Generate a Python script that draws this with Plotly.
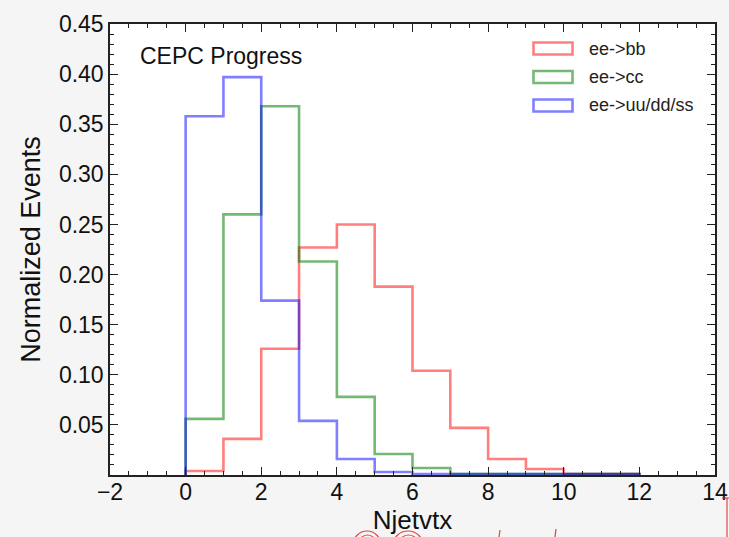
import plotly.graph_objects as go

# Normalized jet-vertex multiplicity per process, unit-width bins starting at 0
bin_edges = list(range(0, 13))
bb_values = [0.004, 0.036, 0.126, 0.227, 0.250, 0.188, 0.104, 0.047, 0.016, 0.006, 0.001, 0.001]
cc_values = [0.056, 0.260, 0.368, 0.213, 0.078, 0.021, 0.007, 0.001, 0.001, 0.001, 0.001, 0.001]
uds_values = [0.358, 0.397, 0.174, 0.054, 0.016, 0.003, 0.001, 0.001, 0.001, 0.001, 0.001, 0.001]

series_names = ["ee->bb", "ee->cc", "ee->uu/dd/ss"]
series_values = [bb_values, cc_values, uds_values]
series_colors = ["rgba(255,0,0,0.5)", "rgba(0,128,0,0.55)", "rgba(0,0,255,0.5)"]

y_tick_vals = [0.05, 0.10, 0.15, 0.20, 0.25, 0.30, 0.35, 0.40, 0.45]
x_tick_vals = [-2, 0, 2, 4, 6, 8, 10, 12, 14]

FONT = "Liberation Sans, Arial, Helvetica, sans-serif"


def step_outline(edges, values):
    """Outline of a step histogram: rises at the first edge, drops at the last."""
    xs = [edges[0]] + edges[:-1] + [edges[-1], edges[-1]]
    ys = [0.0] + values + [values[-1], 0.0]
    return xs, ys


fig = go.Figure()
for name, vals, color in zip(series_names, series_values, series_colors):
    xs, ys = step_outline(bin_edges, vals)
    fig.add_trace(go.Scatter(
        x=xs, y=ys, mode="lines", name=name,
        line=dict(color=color, width=2.6, shape="hv"),
        showlegend=False, hoverinfo="skip",
    ))

# Legend drawn as outlined boxes with labels (top right)
x0, y_top = 110, 475
pw, ph = 605, 451


def px_x(p):
    return (p - x0) / pw


def px_y(p):
    return (y_top - p) / ph


shapes = []
annotations = []
legend_rows = [48.5, 77, 105.5]
for name, color, yc in zip(series_names, series_colors, legend_rows):
    shapes.append(dict(
        type="rect", xref="paper", yref="paper",
        x0=px_x(533.5), x1=px_x(572.5), y0=px_y(yc + 6), y1=px_y(yc - 6),
        line=dict(color=color, width=2.6), fillcolor="rgba(0,0,0,0)",
    ))
    annotations.append(dict(
        text=name, xref="paper", yref="paper", x=px_x(587), y=px_y(yc),
        xanchor="left", yanchor="middle", showarrow=False,
        font=dict(family=FONT, size=18, color="#222"),
    ))

annotations.append(dict(
    text="CEPC Progress", xref="paper", yref="paper", x=px_x(138), y=px_y(56),
    xanchor="left", yanchor="middle", showarrow=False,
    font=dict(family=FONT, size=23, color="#111"),
))

# Red pen marks along the lower edge of the page
pen = dict(color="rgba(220,40,40,0.85)", width=1.2)
shapes += [
    dict(type="circle", xref="paper", yref="paper",
         x0=px_x(353), x1=px_x(381), y0=px_y(560), y1=px_y(531), line=pen),
    dict(type="circle", xref="paper", yref="paper",
         x0=px_x(358), x1=px_x(377), y0=px_y(556), y1=px_y(535), line=pen),
    dict(type="circle", xref="paper", yref="paper",
         x0=px_x(393), x1=px_x(423), y0=px_y(560), y1=px_y(531), line=pen),
    dict(type="circle", xref="paper", yref="paper",
         x0=px_x(398), x1=px_x(419), y0=px_y(556), y1=px_y(535), line=pen),
    dict(type="line", xref="paper", yref="paper",
         x0=px_x(499), x1=px_x(500), y0=px_y(537), y1=px_y(530), line=pen),
    dict(type="line", xref="paper", yref="paper",
         x0=px_x(555), x1=px_x(556), y0=px_y(537), y1=px_y(529), line=pen),
    dict(type="line", xref="paper", yref="paper",
         x0=px_x(727), x1=px_x(727), y0=px_y(540), y1=px_y(498), line=pen),
    dict(type="line", xref="paper", yref="paper",
         x0=px_x(722), x1=px_x(729), y0=px_y(498), y1=px_y(498), line=pen),
]

axis_common = dict(
    showline=True, linecolor="#222", linewidth=1.5, mirror="ticks",
    ticks="inside", ticklen=8, tickwidth=1.2, tickcolor="#222",
    showgrid=False, zeroline=False,
    tickfont=dict(family=FONT, size=23, color="#111"),
)

fig.update_layout(
    width=729, height=537,
    margin=dict(l=110, r=14, t=24, b=62, autoexpand=False),
    paper_bgcolor="#f5f5f5", plot_bgcolor="white",
    xaxis=dict(
        range=[-2, 14], tickvals=x_tick_vals, ticklabelstandoff=-4,
        minor=dict(dtick=0.5, ticklen=4, ticks="inside", tickcolor="#222", showgrid=False),
        title=dict(text="Njetvtx", font=dict(family=FONT, size=26, color="#111"), standoff=6),
        **axis_common,
    ),
    yaxis=dict(
        range=[0, 0.45], tickvals=y_tick_vals, tickformat=".2f",
        minor=dict(dtick=0.01, ticklen=4, ticks="inside", tickcolor="#222", showgrid=False),
        title=dict(text="Normalized Events", font=dict(family=FONT, size=27, color="#111"), standoff=10),
        **axis_common,
    ),
    shapes=shapes, annotations=annotations, showlegend=False,
)

fig.write_html("out.html")
